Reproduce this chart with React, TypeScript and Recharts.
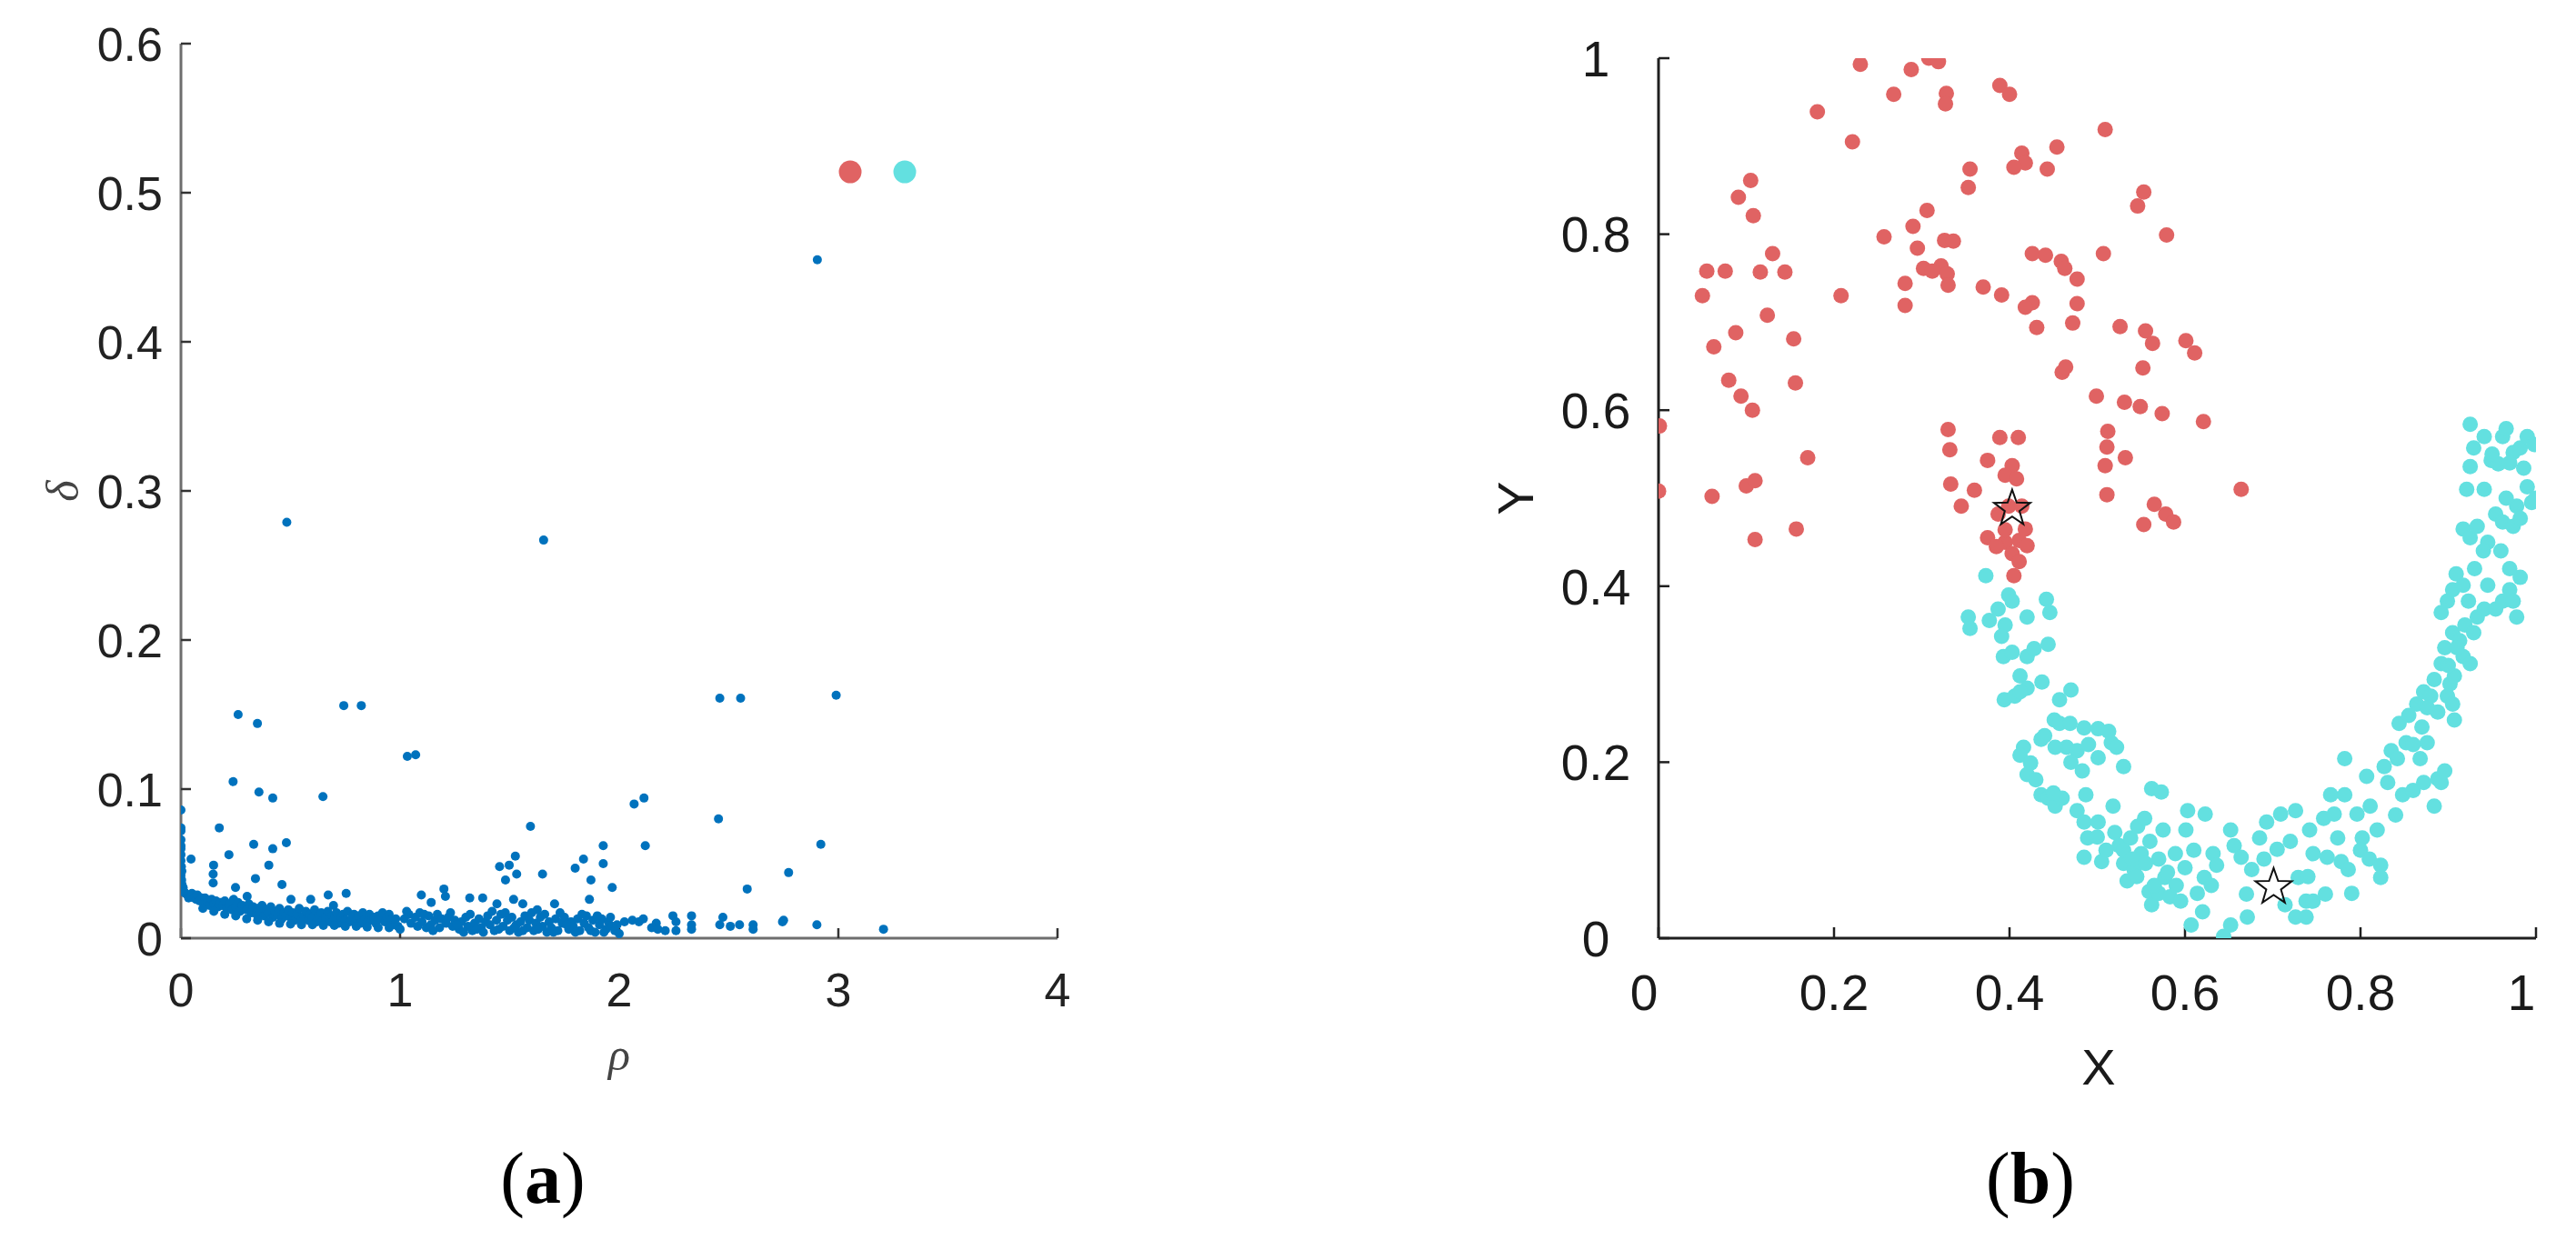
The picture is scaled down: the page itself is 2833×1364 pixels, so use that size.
import React from "react";
import { ScatterChart, Scatter, XAxis, YAxis } from "recharts";

// ---- panel (a): decision graph, rho vs delta ----
const rhoTicks = [0, 1, 2, 3, 4];
const deltaTicks = [0, 0.1, 0.2, 0.3, 0.4, 0.5, 0.6];

const decisionPoints: [number, number][] = [
  [2.904, 0.455], [0.483, 0.279], [1.655, 0.267], [0.261, 0.15], [0.349, 0.144],
  [0.743, 0.156], [0.823, 0.156], [1.033, 0.122], [1.071, 0.123], [2.459, 0.161],
  [2.554, 0.161], [2.99, 0.163], [0.238, 0.105], [0.356, 0.098], [0.419, 0.094],
  [0.648, 0.095], [2.068, 0.09], [2.113, 0.094], [2.453, 0.08], [0.175, 0.074],
  [0.0, 0.086], [2.119, 0.062], [2.92, 0.063], [1.595, 0.075], [1.927, 0.062],
  [0.219, 0.056], [0.332, 0.063], [0.419, 0.06], [0.481, 0.064], [0.046, 0.053],
  [0.149, 0.049], [0.147, 0.043], [0.147, 0.037], [0.401, 0.049], [0.34, 0.04],
  [0.461, 0.036], [0.249, 0.034], [0.302, 0.028], [0.502, 0.026], [0.672, 0.029],
  [0.754, 0.03], [0.696, 0.022], [0.592, 0.026],
  [1.454, 0.048], [1.498, 0.049], [1.526, 0.055], [1.532, 0.043], [1.481, 0.039],
  [1.65, 0.043], [1.799, 0.047], [1.837, 0.053], [1.927, 0.05], [1.871, 0.039],
  [1.968, 0.034], [1.864, 0.026],
  [1.097, 0.029], [1.142, 0.024], [1.2, 0.033], [1.207, 0.028], [1.318, 0.027],
  [1.377, 0.027], [1.442, 0.023], [1.518, 0.026], [1.56, 0.023], [1.626, 0.019],
  [1.705, 0.023], [2.773, 0.044], [2.584, 0.033],
  [0.0, 0.074], [0.0, 0.072], [0.0, 0.062], [0.0, 0.06], [0.0, 0.052], [0.002, 0.048],
  [0.0, 0.042], [0.003, 0.039], [0.005, 0.036], [0.004, 0.045], [0.0, 0.066], [0.0, 0.056],
  [2.024, 0.011], [2.06, 0.012], [2.09, 0.011], [2.11, 0.013], [2.148, 0.007],
  [2.169, 0.01], [2.176, 0.006], [2.21, 0.005], [2.245, 0.015], [2.259, 0.011],
  [2.259, 0.005], [2.33, 0.015], [2.33, 0.009], [2.33, 0.006], [2.473, 0.014],
  [2.459, 0.009], [2.507, 0.008], [2.549, 0.009], [2.611, 0.009], [2.611, 0.006],
  [2.75, 0.012], [2.745, 0.011], [2.902, 0.009], [3.206, 0.006],
  [0.01, 0.034], [0.015, 0.031], [0.02, 0.03], [0.03, 0.029], [0.035, 0.027],
  [0.045, 0.028], [0.05, 0.03], [0.06, 0.027], [0.07, 0.026], [0.075, 0.029],
  [0.085, 0.025], [0.095, 0.027], [0.105, 0.024], [0.11, 0.027], [0.12, 0.025],
  [0.13, 0.022], [0.14, 0.026], [0.15, 0.023], [0.16, 0.025], [0.17, 0.021],
  [0.18, 0.024], [0.19, 0.022], [0.2, 0.025], [0.21, 0.02], [0.22, 0.023],
  [0.235, 0.019], [0.24, 0.026], [0.25, 0.021], [0.26, 0.024], [0.27, 0.018],
  [0.28, 0.022], [0.29, 0.02], [0.3, 0.019], [0.31, 0.023], [0.32, 0.017],
  [0.33, 0.021], [0.345, 0.016], [0.35, 0.02], [0.36, 0.018], [0.37, 0.022],
  [0.38, 0.015], [0.39, 0.019], [0.4, 0.017], [0.41, 0.021], [0.42, 0.014],
  [0.43, 0.018], [0.44, 0.016], [0.45, 0.02], [0.46, 0.013], [0.47, 0.017],
  [0.48, 0.015], [0.49, 0.019], [0.5, 0.014], [0.51, 0.017], [0.52, 0.012],
  [0.53, 0.016], [0.54, 0.02], [0.55, 0.013], [0.56, 0.015], [0.57, 0.018],
  [0.58, 0.012], [0.59, 0.016], [0.6, 0.014], [0.61, 0.019], [0.62, 0.011],
  [0.63, 0.015], [0.64, 0.017], [0.65, 0.012], [0.66, 0.014], [0.67, 0.018],
  [0.68, 0.011], [0.69, 0.015], [0.7, 0.013], [0.71, 0.017], [0.72, 0.01],
  [0.73, 0.014], [0.74, 0.016], [0.75, 0.012], [0.76, 0.018], [0.77, 0.011],
  [0.78, 0.014], [0.79, 0.016], [0.8, 0.012], [0.81, 0.015], [0.82, 0.01],
  [0.83, 0.017], [0.84, 0.013], [0.85, 0.011], [0.86, 0.016], [0.87, 0.012],
  [0.88, 0.014], [0.89, 0.01], [0.9, 0.015], [0.91, 0.013], [0.92, 0.017],
  [0.93, 0.011], [0.94, 0.014], [0.95, 0.016], [0.96, 0.012], [0.97, 0.009],
  [0.98, 0.013], [0.99, 0.008], [1.0, 0.006], [1.02, 0.013], [1.04, 0.016],
  [1.05, 0.01], [1.07, 0.014], [1.08, 0.008], [1.09, 0.017], [1.1, 0.011],
  [1.12, 0.007], [1.13, 0.015], [1.14, 0.009], [1.16, 0.012], [1.17, 0.016],
  [1.18, 0.007], [1.19, 0.013], [1.21, 0.01], [1.22, 0.014], [1.24, 0.008],
  [1.25, 0.012], [1.27, 0.006], [1.28, 0.011], [1.3, 0.014], [1.31, 0.008],
  [1.33, 0.005], [1.34, 0.01], [1.36, 0.013], [1.37, 0.007], [1.39, 0.011],
  [1.4, 0.015], [1.41, 0.009], [1.43, 0.005], [1.44, 0.012], [1.46, 0.016],
  [1.47, 0.008], [1.49, 0.012], [1.5, 0.005], [1.51, 0.014], [1.53, 0.009],
  [1.54, 0.004], [1.55, 0.011], [1.57, 0.015], [1.58, 0.007], [1.59, 0.012],
  [1.61, 0.005], [1.62, 0.01], [1.64, 0.014], [1.65, 0.008], [1.67, 0.004],
  [1.68, 0.011], [1.69, 0.007], [1.71, 0.013], [1.72, 0.005], [1.74, 0.01],
  [1.75, 0.014], [1.77, 0.006], [1.78, 0.011], [1.79, 0.008], [1.81, 0.013],
  [1.82, 0.005], [1.84, 0.01], [1.85, 0.015], [1.86, 0.007], [1.88, 0.012],
  [1.89, 0.004], [1.91, 0.009], [1.92, 0.013], [1.94, 0.006], [1.95, 0.011],
  [1.97, 0.008], [1.98, 0.005], [2.0, 0.003],
  [0.1, 0.02], [0.15, 0.018], [0.2, 0.016], [0.25, 0.015], [0.3, 0.013],
  [0.35, 0.012], [0.4, 0.011], [0.45, 0.01], [0.5, 0.0095], [0.55, 0.009],
  [0.6, 0.009], [0.65, 0.0085], [0.7, 0.0085], [0.75, 0.008], [0.8, 0.008],
  [0.85, 0.0075], [0.9, 0.007], [0.95, 0.007],
  [1.03, 0.018], [1.11, 0.016], [1.15, 0.005], [1.23, 0.017], [1.26, 0.009],
  [1.29, 0.004], [1.32, 0.016], [1.35, 0.006], [1.38, 0.004], [1.42, 0.018],
  [1.45, 0.006], [1.48, 0.017], [1.52, 0.007], [1.56, 0.005], [1.6, 0.017],
  [1.63, 0.006], [1.66, 0.016], [1.7, 0.004], [1.73, 0.017], [1.76, 0.009],
  [1.8, 0.004], [1.83, 0.016], [1.87, 0.005], [1.9, 0.015], [1.93, 0.004],
  [1.96, 0.014], [1.99, 0.009],
];
const centerRed: [number, number][] = [[3.054, 0.514]];
const centerCyan: [number, number][] = [[3.303, 0.514]];

// ---- panel (b): two moons clustering result ----
const unitTicks = [0, 0.2, 0.4, 0.6, 0.8, 1];

const clusterRed: [number, number][] = [
  [0.23, 0.993], [0.288, 0.987], [0.308, 1.0], [0.319, 0.996], [0.268, 0.959],
  [0.328, 0.96], [0.327, 0.948], [0.389, 0.969], [0.4, 0.959], [0.181, 0.939],
  [0.221, 0.905], [0.509, 0.919], [0.414, 0.892], [0.418, 0.881], [0.405, 0.876],
  [0.454, 0.899], [0.443, 0.874], [0.355, 0.874], [0.353, 0.853], [0.553, 0.848],
  [0.546, 0.832], [0.105, 0.861], [0.091, 0.842], [0.108, 0.821], [0.257, 0.797],
  [0.29, 0.809], [0.306, 0.827], [0.579, 0.799], [0.326, 0.793], [0.336, 0.792],
  [0.426, 0.778], [0.441, 0.776], [0.507, 0.778], [0.13, 0.778], [0.055, 0.758],
  [0.076, 0.758], [0.116, 0.757], [0.144, 0.757], [0.05, 0.73], [0.295, 0.784],
  [0.322, 0.764], [0.302, 0.761], [0.329, 0.755], [0.312, 0.758], [0.459, 0.769],
  [0.463, 0.761], [0.281, 0.744], [0.208, 0.73], [0.281, 0.719], [0.33, 0.742],
  [0.37, 0.74], [0.391, 0.731], [0.426, 0.722], [0.418, 0.717], [0.477, 0.749],
  [0.477, 0.721], [0.431, 0.694], [0.472, 0.699], [0.526, 0.695], [0.555, 0.69],
  [0.563, 0.676], [0.601, 0.679], [0.611, 0.665], [0.063, 0.672], [0.088, 0.688],
  [0.124, 0.708], [0.154, 0.681], [0.08, 0.634], [0.094, 0.616], [0.107, 0.6],
  [0.156, 0.631], [0.46, 0.643], [0.464, 0.649], [0.552, 0.648], [0.499, 0.616],
  [0.531, 0.609], [0.549, 0.604], [0.574, 0.596], [0.621, 0.587], [0.512, 0.576],
  [0.511, 0.558], [0.532, 0.546], [0.509, 0.537], [0.001, 0.582], [0.0, 0.508],
  [0.061, 0.502], [0.1, 0.514], [0.11, 0.52], [0.17, 0.546], [0.11, 0.453],
  [0.157, 0.465], [0.511, 0.504], [0.664, 0.51], [0.565, 0.493], [0.578, 0.482],
  [0.587, 0.473], [0.553, 0.47],
  [0.33, 0.578], [0.332, 0.555], [0.389, 0.569], [0.41, 0.569], [0.375, 0.543],
  [0.403, 0.537], [0.333, 0.516], [0.36, 0.509], [0.345, 0.491], [0.395, 0.526],
  [0.408, 0.522], [0.387, 0.482], [0.399, 0.491], [0.414, 0.491], [0.375, 0.455],
  [0.395, 0.45], [0.411, 0.452], [0.42, 0.446], [0.403, 0.437], [0.411, 0.428],
  [0.405, 0.412], [0.395, 0.464], [0.385, 0.445], [0.418, 0.465],
];

const clusterCyan: [number, number][] = [
  [0.373, 0.412], [0.353, 0.365], [0.355, 0.352], [0.377, 0.361], [0.387, 0.374],
  [0.399, 0.39], [0.403, 0.383], [0.395, 0.356], [0.42, 0.365], [0.442, 0.385],
  [0.446, 0.37], [0.391, 0.343], [0.393, 0.32], [0.403, 0.325], [0.42, 0.32],
  [0.428, 0.329], [0.444, 0.334], [0.394, 0.271], [0.406, 0.275], [0.412, 0.298],
  [0.42, 0.284], [0.437, 0.291], [0.412, 0.28], [0.457, 0.271], [0.47, 0.282],
  [0.451, 0.248], [0.457, 0.244], [0.469, 0.244], [0.485, 0.239], [0.501, 0.238],
  [0.513, 0.235], [0.516, 0.222], [0.522, 0.217], [0.53, 0.195], [0.501, 0.205],
  [0.465, 0.217], [0.452, 0.217], [0.436, 0.226], [0.416, 0.217], [0.412, 0.208],
  [0.424, 0.199], [0.42, 0.186], [0.477, 0.213], [0.483, 0.19], [0.436, 0.163],
  [0.444, 0.159], [0.452, 0.15], [0.46, 0.159], [0.477, 0.145], [0.485, 0.132],
  [0.487, 0.163], [0.501, 0.132], [0.518, 0.15], [0.489, 0.114], [0.485, 0.092],
  [0.505, 0.087], [0.525, 0.105], [0.53, 0.085], [0.538, 0.114], [0.542, 0.078],
  [0.534, 0.065], [0.55, 0.096], [0.546, 0.127], [0.554, 0.136], [0.562, 0.17],
  [0.573, 0.166], [0.575, 0.123], [0.559, 0.053], [0.562, 0.038], [0.57, 0.051],
  [0.577, 0.069], [0.583, 0.047], [0.589, 0.096], [0.595, 0.042], [0.601, 0.123],
  [0.603, 0.145], [0.607, 0.015], [0.614, 0.051], [0.622, 0.069], [0.623, 0.141],
  [0.632, 0.096], [0.636, 0.083], [0.644, 0.002], [0.652, 0.015], [0.652, 0.123],
  [0.656, 0.105], [0.664, 0.092], [0.671, 0.024], [0.676, 0.078], [0.685, 0.114],
  [0.693, 0.132], [0.705, 0.101], [0.709, 0.141], [0.714, 0.038], [0.726, 0.024],
  [0.738, 0.024], [0.726, 0.145], [0.729, 0.069], [0.738, 0.042], [0.746, 0.042],
  [0.742, 0.123], [0.746, 0.096], [0.758, 0.136], [0.762, 0.092], [0.766, 0.163],
  [0.77, 0.141], [0.774, 0.114], [0.778, 0.087], [0.782, 0.163], [0.786, 0.078],
  [0.79, 0.051], [0.782, 0.204], [0.796, 0.141], [0.802, 0.114], [0.807, 0.184],
  [0.811, 0.15], [0.819, 0.123], [0.823, 0.083], [0.823, 0.069], [0.831, 0.177],
  [0.827, 0.195], [0.835, 0.213], [0.842, 0.204], [0.848, 0.163], [0.852, 0.222],
  [0.86, 0.168], [0.868, 0.204], [0.872, 0.177], [0.876, 0.222], [0.884, 0.15],
  [0.888, 0.181], [0.892, 0.177], [0.896, 0.19], [0.844, 0.244], [0.855, 0.253],
  [0.864, 0.266], [0.872, 0.28], [0.88, 0.275], [0.876, 0.262], [0.888, 0.257],
  [0.899, 0.275], [0.902, 0.289], [0.905, 0.266], [0.907, 0.248], [0.907, 0.298],
  [0.917, 0.32], [0.925, 0.312], [0.892, 0.312], [0.884, 0.294], [0.896, 0.33],
  [0.905, 0.347], [0.913, 0.338], [0.919, 0.356], [0.929, 0.347], [0.892, 0.37],
  [0.899, 0.383], [0.905, 0.396], [0.909, 0.414], [0.917, 0.401], [0.923, 0.383],
  [0.933, 0.365], [0.941, 0.374], [0.945, 0.401], [0.954, 0.374], [0.962, 0.383],
  [0.97, 0.396], [0.974, 0.383], [0.978, 0.365], [0.982, 0.41], [0.917, 0.465],
  [0.925, 0.455], [0.933, 0.468], [0.945, 0.45], [0.954, 0.482], [0.962, 0.473],
  [0.974, 0.468], [0.978, 0.491], [0.982, 0.477], [0.99, 0.513], [0.995, 0.495],
  [1.0, 0.5], [0.925, 0.536], [0.929, 0.557], [0.925, 0.584], [0.941, 0.57],
  [0.949, 0.543], [0.957, 0.539], [0.962, 0.57], [0.966, 0.579], [0.974, 0.552],
  [0.982, 0.557], [0.99, 0.57], [0.998, 0.561], [0.986, 0.534], [0.921, 0.51],
  [0.941, 0.51], [0.966, 0.5],
  [0.52, 0.12], [0.53, 0.1], [0.54, 0.09], [0.545, 0.07], [0.555, 0.085],
  [0.565, 0.06], [0.57, 0.09], [0.58, 0.075], [0.59, 0.06], [0.6, 0.08],
  [0.56, 0.11], [0.51, 0.1], [0.5, 0.115], [0.61, 0.1], [0.62, 0.03],
  [0.63, 0.06], [0.67, 0.05], [0.69, 0.09], [0.72, 0.11], [0.74, 0.07],
  [0.76, 0.05], [0.8, 0.1], [0.81, 0.09], [0.84, 0.14], [0.86, 0.22],
  [0.87, 0.24], [0.9, 0.31], [0.91, 0.33], [0.93, 0.42], [0.94, 0.44],
  [0.96, 0.44], [0.97, 0.42], [0.95, 0.55], [0.97, 0.54], [0.44, 0.23],
  [0.47, 0.2], [0.49, 0.22], [0.43, 0.18], [0.45, 0.165],
];

const clusterCenters: [number, number][] = [[0.403, 0.488], [0.701, 0.058]];

const toRows = (pts: [number, number][]) => pts.map(([x, y]) => ({ x, y }));

const BLUE = "#0072BD";
const RED = "#E06363";
const CYAN = "#63E0E0";
const SANS = "'Liberation Sans', Arial, sans-serif";
const SERIF = "'Liberation Serif', 'Times New Roman', serif";

const dot = (r: number, fill: string) => (props: any) => (
  <circle cx={props.cx} cy={props.cy} r={r} fill={fill} />
);

const starShape = (props: any) => {
  const { cx, cy } = props;
  const outer = 21;
  const inner = 8.5;
  const pts: string[] = [];
  for (let i = 0; i < 10; i++) {
    const rad = i % 2 === 0 ? outer : inner;
    const a = -Math.PI / 2 + (i * Math.PI) / 5;
    pts.push(`${cx + rad * Math.cos(a)},${cy + rad * Math.sin(a)}`);
  }
  return <polygon points={pts.join(" ")} fill="none" stroke="#111" strokeWidth={2} />;
};

const fmt = (v: number) => String(v);

const LeftXTick = (props: any) => (
  <text x={props.x} y={props.y} dy="0.71em" textAnchor="middle" fontFamily={SANS} fontSize={52} fill="#222">
    {fmt(props.payload.value)}
  </text>
);
const LeftYTick = (props: any) => (
  <text x={props.x} y={props.y} dy="0.36em" textAnchor="end" fontFamily={SANS} fontSize={52} fill="#222">
    {fmt(props.payload.value)}
  </text>
);
// single-digit labels of panel (b) sit a little left of their ticks
const RightXTick = (props: any) => {
  const label = fmt(props.payload.value);
  const shift = label.length === 1 ? -16 : 0;
  return (
    <text x={props.x + shift} y={props.y} dy="0.71em" textAnchor="middle" fontFamily={SANS} fontSize={55} fill="#1a1a1a">
      {label}
    </text>
  );
};
const RightYTick = (props: any) => (
  <text x={props.x} y={props.y} dy="0.36em" textAnchor="middle" fontFamily={SANS} fontSize={55} fill="#1a1a1a">
    {fmt(props.payload.value)}
  </text>
);

const abs = (left: number, top: number, extra: React.CSSProperties = {}): React.CSSProperties => ({
  position: "absolute",
  left,
  top,
  transform: "translate(-50%, -50%)",
  whiteSpace: "nowrap",
  lineHeight: 1,
  ...extra,
});

export default function App() {
  return (
    <div style={{ position: "relative", width: 2833, height: 1364, background: "#fff", overflow: "hidden" }}>
      <style>{`body{margin:0}`}</style>

      <div style={{ position: "absolute", left: 0, top: 0 }}>
        <ScatterChart width={1200} height={1364} margin={{ top: 48, right: 37, bottom: 232, left: 0 }}>
          <XAxis
            type="number"
            dataKey="x"
            domain={[0, 4]}
            ticks={rhoTicks}
            height={100}
            allowDataOverflow
            axisLine={{ stroke: "#6e6e6e", strokeWidth: 3 }}
            tickLine={{ stroke: "#333", strokeWidth: 2.5 }}
            tickSize={-11}
            tickMargin={49}
            tick={LeftXTick}
          />
          <YAxis
            type="number"
            dataKey="y"
            domain={[0, 0.6]}
            ticks={deltaTicks}
            width={199}
            allowDataOverflow
            axisLine={{ stroke: "#6e6e6e", strokeWidth: 3 }}
            tickLine={{ stroke: "#333", strokeWidth: 2.5 }}
            tickSize={-11}
            tickMargin={31}
            tick={LeftYTick}
          />
          <Scatter data={toRows(decisionPoints)} shape={dot(5, BLUE)} isAnimationActive={false} />
          <Scatter data={toRows(centerRed)} shape={dot(12.5, RED)} isAnimationActive={false} />
          <Scatter data={toRows(centerCyan)} shape={dot(12.5, CYAN)} isAnimationActive={false} />
        </ScatterChart>
      </div>

      <div style={{ position: "absolute", left: 1600, top: 0 }}>
        <ScatterChart width={1233} height={1364} margin={{ top: 64, right: 44, bottom: 232, left: 0 }}>
          <XAxis
            type="number"
            dataKey="x"
            domain={[0, 1]}
            ticks={unitTicks}
            height={100}
            allowDataOverflow
            axisLine={{ stroke: "#1f1f1f", strokeWidth: 3 }}
            tickLine={{ stroke: "#1f1f1f", strokeWidth: 2.5 }}
            tickSize={-12}
            tickMargin={52}
            tick={RightXTick}
          />
          <YAxis
            type="number"
            dataKey="y"
            domain={[0, 1]}
            ticks={unitTicks}
            width={224}
            allowDataOverflow
            axisLine={{ stroke: "#1f1f1f", strokeWidth: 3 }}
            tickLine={{ stroke: "#1f1f1f", strokeWidth: 2.5 }}
            tickSize={-12}
            tickMargin={81}
            tick={RightYTick}
          />
          <Scatter data={toRows(clusterRed)} shape={dot(8.5, RED)} isAnimationActive={false} />
          <Scatter data={toRows(clusterCyan)} shape={dot(8.5, CYAN)} isAnimationActive={false} />
          <Scatter data={toRows(clusterCenters)} shape={starShape} isAnimationActive={false} />
        </ScatterChart>
      </div>

      <div style={abs(69, 540, { transform: "translate(-50%, -50%) rotate(-90deg)", fontFamily: SERIF, fontStyle: "italic", fontSize: 50, color: "#444" })}>δ</div>
      <div style={abs(681, 1160, { fontFamily: SERIF, fontStyle: "italic", fontSize: 50, color: "#444" })}>ρ</div>
      <div style={abs(1667, 548, { transform: "translate(-50%, -50%) rotate(-90deg)", fontFamily: SANS, fontSize: 56, color: "#1a1a1a" })}>Y</div>
      <div style={abs(2308, 1174, { fontFamily: SANS, fontSize: 56, color: "#1a1a1a" })}>X</div>

      <div style={abs(597, 1296, { fontFamily: SERIF, fontSize: 80, color: "#000" })}>
        (<b>a</b>)
      </div>
      <div style={abs(2233, 1296, { fontFamily: SERIF, fontSize: 80, color: "#000" })}>
        (<b>b</b>)
      </div>
    </div>
  );
}
